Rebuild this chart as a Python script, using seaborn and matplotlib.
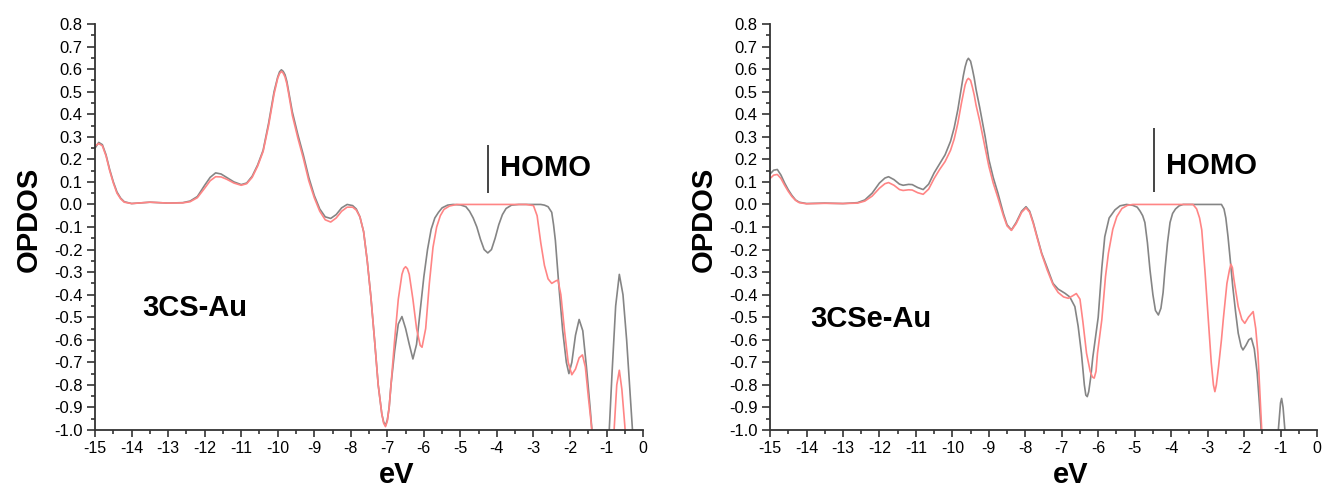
import matplotlib
matplotlib.use("Agg")
import matplotlib.pyplot as plt
import matplotlib.ticker as ticker
import seaborn as sns

# 3CS-Au, grey curve
cs_gray_ev = [-15.0, -14.9, -14.8, -14.7, -14.6, -14.5, -14.4, -14.3, -14.2, -14.0, -13.5, -13.0,
              -12.6, -12.4, -12.2, -12.0, -11.85, -11.7, -11.55, -11.4, -11.2, -11.0, -10.85,
              -10.7, -10.55, -10.4, -10.25, -10.1, -10.0, -9.95, -9.9, -9.85, -9.8, -9.75, -9.7,
              -9.6, -9.45, -9.3, -9.15, -9.0, -8.85, -8.7, -8.55, -8.4, -8.25, -8.1, -7.95, -7.85,
              -7.75, -7.65, -7.55, -7.45, -7.35, -7.25, -7.15, -7.1, -7.05, -7.0, -6.95, -6.9,
              -6.8, -6.7, -6.6, -6.5, -6.4, -6.3, -6.2, -6.1, -6.0, -5.9, -5.8, -5.7, -5.6, -5.5,
              -5.35, -5.2, -5.0, -4.85, -4.75, -4.65, -4.55, -4.45, -4.35, -4.25, -4.15, -4.05,
              -3.95, -3.85, -3.75, -3.6, -3.4, -3.2, -3.0, -2.8, -2.7, -2.6, -2.5, -2.45, -2.4,
              -2.3, -2.2, -2.1, -2.03, -1.95, -1.85, -1.75, -1.65, -1.55, -1.45, -1.35, -1.2,
              -1.05, -0.95, -0.85, -0.75, -0.65, -0.55, -0.45, -0.35, -0.25]
cs_gray = [0.25, 0.275, 0.265, 0.22, 0.155, 0.1, 0.055, 0.028, 0.012, 0.004, 0.01, 0.006,
           0.008, 0.015, 0.035, 0.085, 0.12, 0.14, 0.135, 0.12, 0.1, 0.088, 0.095,
           0.125, 0.175, 0.24, 0.36, 0.5, 0.565, 0.588, 0.597, 0.59, 0.575, 0.545, 0.5,
           0.41, 0.31, 0.22, 0.12, 0.04, -0.02, -0.055, -0.062, -0.045, -0.015, 0.0, -0.005, -0.02,
           -0.055, -0.12, -0.25, -0.41, -0.6, -0.8, -0.93, -0.965, -0.98, -0.955, -0.9, -0.8,
           -0.65, -0.53, -0.497, -0.55, -0.62, -0.685, -0.62, -0.47, -0.32, -0.2, -0.11, -0.06,
           -0.035, -0.015, -0.003, 0.0, -0.002, -0.01, -0.03, -0.06, -0.1, -0.155, -0.2, -0.215,
           -0.2, -0.15, -0.09, -0.045, -0.018, -0.003, 0.0, 0.0, 0.0, 0.0, -0.003, -0.01, -0.035,
           -0.09, -0.16, -0.37, -0.56, -0.7, -0.75, -0.7, -0.58, -0.51, -0.56, -0.72, -0.9, -1.1,
           -1.3, -1.3, -1.08, -0.75, -0.45, -0.31, -0.4, -0.6, -0.85, -1.1]

# 3CS-Au, red curve
cs_red_ev = [-15.0, -14.9, -14.8, -14.7, -14.6, -14.5, -14.4, -14.3, -14.2, -14.0, -13.5, -13.0,
             -12.6, -12.4, -12.2, -12.0, -11.85, -11.7, -11.55, -11.4, -11.2, -11.0, -10.85,
             -10.7, -10.55, -10.4, -10.25, -10.1, -10.0, -9.95, -9.9, -9.85, -9.8, -9.75, -9.7,
             -9.6, -9.45, -9.3, -9.15, -9.0, -8.85, -8.7, -8.55, -8.4, -8.25, -8.1, -7.95, -7.85,
             -7.75, -7.65, -7.55, -7.45, -7.35, -7.25, -7.15, -7.1, -7.05, -7.0, -6.95, -6.9,
             -6.8, -6.7, -6.6, -6.55, -6.5, -6.45, -6.4, -6.3, -6.2, -6.1, -6.05, -5.95, -5.85,
             -5.75, -5.65, -5.55, -5.45, -5.3, -5.1, -4.0, -3.2, -3.0, -2.9, -2.8, -2.7, -2.6,
             -2.5, -2.4, -2.33, -2.25, -2.15, -2.05, -1.95, -1.85, -1.75, -1.66, -1.58, -1.5,
             -1.42, -1.35, -1.2, -0.9, -0.8, -0.72, -0.65, -0.58, -0.5, -0.45]
cs_red = [0.26, 0.27, 0.26, 0.215, 0.15, 0.095, 0.05, 0.025, 0.01, 0.004, 0.01, 0.006,
          0.007, 0.012, 0.03, 0.072, 0.105, 0.123, 0.122, 0.112, 0.095, 0.085, 0.092,
          0.12, 0.17, 0.235, 0.35, 0.49, 0.56, 0.58, 0.59, 0.582, 0.565, 0.535, 0.49,
          0.395, 0.295, 0.205, 0.105, 0.03, -0.03, -0.068, -0.078, -0.06, -0.03, -0.012, -0.012,
          -0.025, -0.055, -0.12, -0.25, -0.41, -0.6, -0.8, -0.93, -0.97, -0.985, -0.96, -0.9,
          -0.8, -0.6, -0.42, -0.31, -0.285, -0.276, -0.285, -0.31, -0.42, -0.55, -0.625, -0.633,
          -0.55, -0.35, -0.19, -0.1, -0.05, -0.022, -0.007, 0.0, 0.0, 0.0, -0.005, -0.05, -0.17,
          -0.27, -0.33, -0.35, -0.34, -0.335, -0.4, -0.56, -0.7, -0.755, -0.73, -0.68, -0.667,
          -0.72, -0.85, -0.97, -1.1, -1.3, -1.3, -1.02, -0.8, -0.735, -0.82, -0.98, -1.1]

# 3CSe-Au, grey curve
cse_gray_ev = [-15.0, -14.9, -14.8, -14.7, -14.6, -14.5, -14.4, -14.3, -14.2, -14.0, -13.5, -13.0,
               -12.6, -12.4, -12.2, -12.0, -11.85, -11.75, -11.6, -11.45, -11.35, -11.2, -11.1,
               -10.95, -10.8, -10.65, -10.5, -10.35, -10.2, -10.05, -9.95, -9.85, -9.75, -9.7,
               -9.65, -9.6, -9.56, -9.5, -9.45, -9.4, -9.35, -9.25, -9.1, -9.0, -8.88, -8.75,
               -8.6, -8.5, -8.38, -8.25, -8.1, -7.98, -7.88, -7.78, -7.68, -7.55, -7.4, -7.24,
               -7.1, -6.91, -6.78, -6.64, -6.55, -6.46, -6.42, -6.38, -6.34, -6.3, -6.26, -6.2,
               -6.15, -6.0, -5.9, -5.82, -5.7, -5.54, -5.4, -5.22, -5.05, -4.93, -4.85, -4.78,
               -4.72, -4.65, -4.58, -4.5, -4.43, -4.35, -4.28, -4.22, -4.17, -4.1, -4.03, -3.96,
               -3.88, -3.78, -3.67, -3.0, -2.62, -2.55, -2.5, -2.44, -2.37, -2.31, -2.23, -2.16,
               -2.08, -2.03, -1.95, -1.87, -1.8, -1.72, -1.64, -1.58, -1.53, -1.45, -1.2, -1.1,
               -1.06, -1.0, -0.97, -0.93, -0.88, -0.8]
cse_gray = [0.135, 0.152, 0.155, 0.13, 0.095, 0.065, 0.04, 0.02, 0.01, 0.004, 0.006, 0.004,
            0.008, 0.02, 0.05, 0.095, 0.117, 0.123, 0.11, 0.09, 0.085, 0.089, 0.088,
            0.075, 0.066, 0.09, 0.14, 0.18, 0.22, 0.28, 0.34, 0.42, 0.52, 0.57,
            0.61, 0.638, 0.648, 0.635, 0.6, 0.56, 0.51, 0.43, 0.3, 0.2, 0.12, 0.05,
            -0.04, -0.09, -0.113, -0.08, -0.03, -0.01, -0.03, -0.08, -0.14, -0.216, -0.28, -0.35,
            -0.375, -0.394, -0.41, -0.453, -0.54, -0.66, -0.73, -0.8, -0.845, -0.852, -0.83, -0.76,
            -0.68, -0.5, -0.28, -0.143, -0.06, -0.024, -0.006, 0.0, -0.004, -0.012, -0.03, -0.05,
            -0.08, -0.17, -0.29, -0.4, -0.47, -0.49, -0.46, -0.39, -0.29, -0.17, -0.08, -0.04,
            -0.02, -0.006, 0.0, 0.0, 0.0, -0.02, -0.06, -0.143, -0.26, -0.364, -0.48, -0.571,
            -0.63, -0.645, -0.625, -0.6, -0.593, -0.64, -0.748, -0.88, -1.0, -1.2, -1.3, -1.1,
            -1.0, -0.88, -0.86, -0.9, -1.0, -1.2]

# 3CSe-Au, red curve
cse_red_ev = [-15.0, -14.9, -14.8, -14.7, -14.6, -14.5, -14.4, -14.3, -14.2, -14.0, -13.5, -13.0,
              -12.6, -12.4, -12.2, -12.0, -11.85, -11.75, -11.6, -11.45, -11.35, -11.2, -11.1,
              -10.95, -10.8, -10.65, -10.5, -10.35, -10.2, -10.05, -9.95, -9.85, -9.75, -9.7,
              -9.65, -9.6, -9.56, -9.5, -9.45, -9.4, -9.35, -9.25, -9.1, -9.0, -8.88, -8.75,
              -8.6, -8.5, -8.38, -8.25, -8.1, -7.98, -7.88, -7.78, -7.68, -7.55, -7.4, -7.24,
              -7.1, -6.95, -6.82, -6.7, -6.6, -6.5, -6.42, -6.32, -6.22, -6.16, -6.11, -6.06,
              -6.02, -5.9, -5.8, -5.72, -5.6, -5.49, -5.35, -5.2, -5.05, -3.4, -3.3, -3.22, -3.16,
              -3.07, -2.98, -2.9, -2.84, -2.8, -2.76, -2.7, -2.62, -2.57, -2.47, -2.4, -2.36,
              -2.32, -2.28, -2.16, -2.06, -1.98, -1.88, -1.75, -1.68, -1.62, -1.57, -1.52, -1.45]
cse_red = [0.115, 0.13, 0.133, 0.115, 0.085, 0.058, 0.035, 0.018, 0.008, 0.003, 0.005, 0.004,
           0.006, 0.015, 0.037, 0.072, 0.092, 0.097, 0.085, 0.066, 0.062, 0.065, 0.064,
           0.052, 0.045, 0.068, 0.115, 0.155, 0.19, 0.24, 0.29, 0.36, 0.45, 0.49,
           0.53, 0.552, 0.559, 0.55, 0.52, 0.485, 0.44, 0.37, 0.25, 0.17, 0.095, 0.03,
           -0.05, -0.095, -0.115, -0.085, -0.035, -0.015, -0.035, -0.085, -0.145, -0.22, -0.29,
           -0.355, -0.39, -0.41, -0.416, -0.405, -0.395, -0.42, -0.52, -0.66, -0.74, -0.765,
           -0.77, -0.74, -0.66, -0.51, -0.32, -0.216, -0.11, -0.054, -0.018, -0.004, 0.0, 0.0,
           -0.02, -0.06, -0.113, -0.3, -0.512, -0.7, -0.8, -0.83, -0.8, -0.72, -0.6, -0.51,
           -0.35, -0.29, -0.265, -0.28, -0.33, -0.453, -0.51, -0.527, -0.5, -0.475, -0.55,
           -0.66, -0.82, -0.985, -1.2]

panel_names = ["3CS-Au", "3CSe-Au"]
homo_ev = [-4.25, -4.46]

sns.set_style("ticks")
plt.rcParams['font.family'] = ['Liberation Sans', 'DejaVu Sans']
plt.rcParams['axes.unicode_minus'] = False
plt.rcParams['text.color'] = 'black'
plt.rcParams['axes.labelcolor'] = 'black'
plt.rcParams['xtick.color'] = 'black'
plt.rcParams['ytick.color'] = 'black'

fig = plt.figure(figsize=(13.24, 4.92), dpi=100)
ax1 = fig.add_axes([0.0718, 0.126, 0.4139, 0.8252])
ax2 = fig.add_axes([0.5816, 0.126, 0.4131, 0.8252])

series = [(cs_gray_ev, cs_gray, cs_red_ev, cs_red), (cse_gray_ev, cse_gray, cse_red_ev, cse_red)]
name_pos = [(-13.72, -0.46), (-13.9, -0.51)]
homo_span = [(0.052, 0.264), (0.057, 0.338)]
homo_text = [(-3.91, 0.162), (-4.15, 0.172)]

for i, ax in enumerate([ax1, ax2]):
    gx, gy, rx, ry = series[i]
    sns.lineplot(x=gx, y=gy, ax=ax, color="#858585", lw=1.2, estimator=None)
    sns.lineplot(x=rx, y=ry, ax=ax, color="#ff8585", lw=1.2, estimator=None)

    ax.set_xlim(-15, 0)
    ax.set_ylim(-1.0, 0.8)
    ax.xaxis.set_major_locator(ticker.MultipleLocator(1))
    ax.xaxis.set_minor_locator(ticker.MultipleLocator(0.5))
    ax.yaxis.set_major_locator(ticker.MultipleLocator(0.1))
    ax.yaxis.set_minor_locator(ticker.MultipleLocator(0.05))
    ax.xaxis.set_major_formatter(ticker.FormatStrFormatter('%d'))
    ax.yaxis.set_major_formatter(ticker.FormatStrFormatter('%.1f'))
    ax.tick_params(axis='x', which='major', length=5, width=1.2, pad=3, labelsize=11.5, color='#333333')
    ax.tick_params(axis='y', which='major', length=6, width=1.2, pad=3, labelsize=12, color='#333333')
    ax.tick_params(which='minor', length=3, width=1.2, color='#333333')

    sns.despine(ax=ax)
    for side in ['left', 'bottom']:
        ax.spines[side].set_linewidth(1.3)
        ax.spines[side].set_color('#333333')

    ax.set_xlabel("eV", fontsize=21, fontweight='bold')
    ax.set_ylabel("OPDOS", fontsize=21, fontweight='bold')
    ax.xaxis.set_label_coords(0.55, -0.076)
    ax.yaxis.set_label_coords(-0.095, 0.52)

    ax.vlines(homo_ev[i], homo_span[i][0], homo_span[i][1], color='#444444', lw=1.4)
    ax.text(homo_text[i][0], homo_text[i][1], "HOMO", fontsize=21, fontweight='bold',
            ha='left', va='center')
    ax.text(name_pos[i][0], name_pos[i][1], panel_names[i], fontsize=21, fontweight='bold',
            ha='left', va='center')

plt.savefig('out.png', dpi=100)
plt.close(fig)
